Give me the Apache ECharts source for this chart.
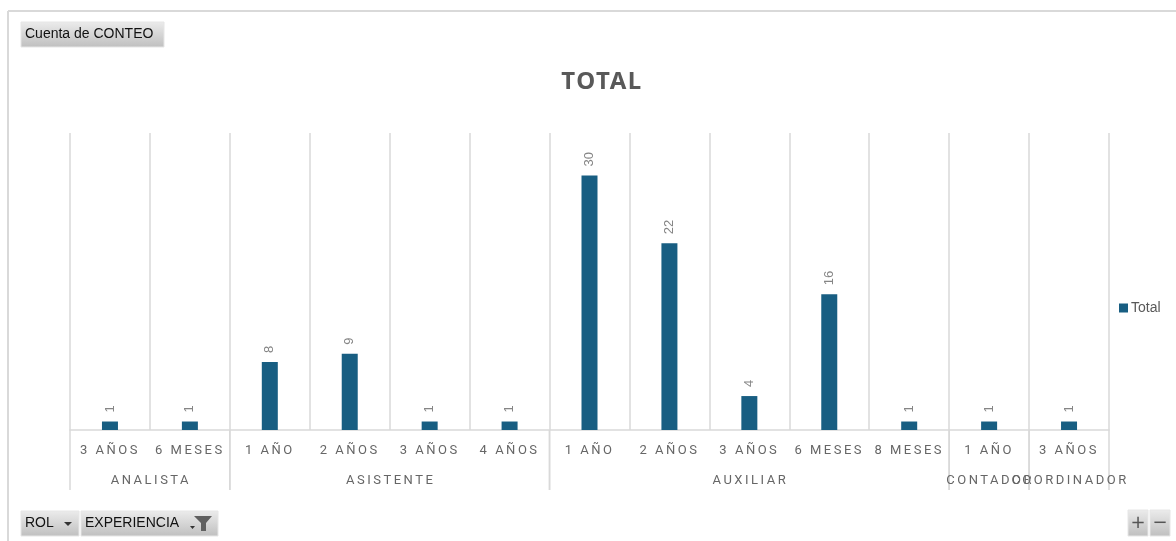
<!DOCTYPE html>
<html>
<head>
<meta charset="utf-8">
<script src="https://cdn.jsdelivr.net/npm/echarts@6/dist/echarts.min.js"></script>
<style>
html,body{margin:0;padding:0;background:#fff;}
#chart{width:1176px;height:541px;}
</style>
</head>
<body>
<div id="chart"></div>
<script>
// ---- data ----
const categories = ['3 AÑOS','6 MESES','1 AÑO','2 AÑOS','3 AÑOS','4 AÑOS','1 AÑO','2 AÑOS','3 AÑOS','6 MESES','8 MESES','1 AÑO','3 AÑOS'];
const values = [1,1,8,9,1,1,30,22,4,16,1,1,1];
const groups = ['ANALISTA','ASISTENTE','AUXILIAR','CONTADOR','COORDINADOR'];
const groupSizes = [2,4,5,1,1];
const seriesName = 'Total';
const titleText = 'TOTAL';

// letter spacing for the axis texts (Excel-like spaced labels)
(function(){
  const proto = CanvasRenderingContext2D.prototype;
  const orig = proto.fillText;
  proto.fillText = function(t, x, y, w){
    if ('letterSpacing' in this) {
      const f = this.font || '';
      let want = '0px';
      if (f.indexOf('Roboto') >= 0) want = '2.5px';
      else if (f.indexOf('Noto Sans') >= 0) want = '1.5px';
      if (this.letterSpacing !== want) { this.letterSpacing = want; this.font = f; }
    }
    return w === undefined ? orig.call(this, t, x, y) : orig.call(this, t, x, y, w);
  };
})();

const groupData = [];
let acc = 0;
groups.forEach((g, i) => { groupData.push({name: g, value: [acc, groupSizes[i]]}); acc += groupSizes[i]; });

const GRID = '#d9d9d9';
const btnFill = {type:'linear',x:0,y:0,x2:0,y2:1,colorStops:[{offset:0,color:'#ececec'},{offset:1,color:'#bfbfbf'}]};

function button(x, y, w, h, text, fs, extra) {
  const children = [
    {type:'rect', shape:{x:0,y:0,width:w,height:h}, style:{fill:btnFill, stroke:'#e6e6e6', lineWidth:1}},
    {type:'text', style:{text:text, x:4, y:h/2, verticalAlign:'middle', fontSize:fs, fontFamily:'Liberation Sans', fill:'#111'}}
  ];
  (extra||[]).forEach(e => children.push(e));
  return {type:'group', x:x, y:y, children:children};
}

const chart = echarts.init(document.getElementById('chart'), null, {renderer:'canvas'});
chart.setOption({
  backgroundColor:'#fff',
  animation:false,
  title:{text:titleText, left:597, top:65, textAlign:'center',
    textStyle:{fontSize:24, fontWeight:'bold', color:'#595959', fontFamily:'Noto Sans'}},
  legend:{data:[seriesName], left:1114, top:296, icon:'rect', itemWidth:9, itemHeight:9, itemGap:4,
    textStyle:{fontSize:14, color:'#595959', fontFamily:'Liberation Sans', padding:[0,0,0,-2]}},
  grid:{left:70, right:67, top:133, bottom:111, containLabel:false},
  xAxis:{
    type:'category', data:categories,
    axisLine:{show:true, lineStyle:{color:GRID, width:1.5}},
    axisTick:{show:false},
    axisLabel:{interval:0, margin:14, fontSize:13, color:'#666', fontFamily:'Roboto'},
    splitLine:{show:true, interval:0, lineStyle:{color:GRID, width:1.5}}
  },
  yAxis:{type:'value', min:0, max:35, show:false, splitLine:{show:false}},
  series:[
    {name:seriesName, type:'bar', data:values, barWidth:16,
      itemStyle:{color:'#185e82'},
      label:{show:true, position:'top', distance:9, rotate:90, align:'left', verticalAlign:'middle',
        fontSize:13, color:'#858585', fontFamily:'Liberation Sans'}},
    {type:'custom', data:groupData, clip:false, silent:true, legendHoverLink:false,
      encode:{x:0, y:1},
      renderItem:function(params, api){
        const start = api.value(0), count = api.value(1);
        const p = api.coord([start, 0]);
        const bw = api.size([1, 0])[0];
        const x0 = p[0] - bw/2, x1 = x0 + count*bw;
        return {type:'group', children:[
          {type:'line', shape:{x1:x0, y1:p[1], x2:x0, y2:p[1]+60}, style:{stroke:GRID, lineWidth:1.5}},
          {type:'line', shape:{x1:x1, y1:p[1], x2:x1, y2:p[1]+60}, style:{stroke:GRID, lineWidth:1.5}},
          {type:'text', style:{text:groups[params.dataIndex], x:(x0+x1)/2 + 1, y:p[1]+51, align:'center', verticalAlign:'middle',
            fontSize:13, fontFamily:'Roboto', fill:'#666'}}
        ]};
      }
    }
  ],
  graphic:[
    {type:'line', shape:{x1:8, y1:11, x2:1176, y2:11}, style:{stroke:GRID, lineWidth:2}},
    {type:'line', shape:{x1:8, y1:11, x2:8, y2:541}, style:{stroke:GRID, lineWidth:2}},
    button(21, 22, 143, 25, 'Cuenta de CONTEO', 14),
    button(21, 511, 58, 25, 'ROL', 14, [
      {type:'polygon', shape:{points:[[43,11],[51,11],[47,15]]}, style:{fill:'#333'}}
    ]),
    button(81, 511, 137, 25, 'EXPERIENCIA', 14, [
      {type:'polygon', shape:{points:[[109,15],[114,15],[111.5,18]]}, style:{fill:'#333'}},
      {type:'polygon', shape:{points:[[113,5],[131,5],[125,12],[125,20],[120,20],[120,12]]}, style:{fill:'#606060'}}
    ]),
    {type:'group', x:1128, y:510, children:[
      {type:'rect', shape:{x:0,y:0,width:20,height:26}, style:{fill:btnFill, stroke:'#e6e6e6'}},
      {type:'text', style:{text:'+', x:10, y:13, align:'center', verticalAlign:'middle', fontSize:18, fontFamily:'DejaVu Sans', fill:'#555'}},
      {type:'rect', shape:{x:22,y:0,width:20,height:26}, style:{fill:btnFill, stroke:'#e6e6e6'}},
      {type:'text', style:{text:'−', x:32, y:13, align:'center', verticalAlign:'middle', fontSize:18, fontFamily:'DejaVu Sans', fill:'#555'}}
    ]}
  ]
});
</script>
</body>
</html>
